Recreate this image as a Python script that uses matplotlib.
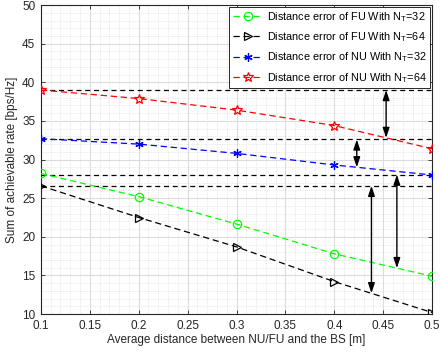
import matplotlib
matplotlib.use("Agg")
import matplotlib.pyplot as plt
from matplotlib.ticker import MultipleLocator

x = [0.1, 0.2, 0.3, 0.4, 0.5]
fu32 = [28.2, 25.2, 21.65, 17.8, 14.9]
fu64 = [26.6, 22.5, 18.7, 14.2, 10.2]
nu32 = [32.7, 32.0, 30.8, 29.3, 28.0]
nu64 = [39.0, 37.9, 36.4, 34.4, 31.4]
labels = ["Distance error of FU With N$_\\mathrm{T}$=32",
          "Distance error of FU With N$_\\mathrm{T}$=64",
          "Distance error of NU With N$_\\mathrm{T}$=32",
          "Distance error of NU With N$_\\mathrm{T}$=64"]
ref_levels = [39.0, 32.6, 28.05, 26.6]
# arrows: (x, y_top, y_bottom)
arrows = [(0.453, 39.0, 32.8), (0.423, 32.6, 29.0), (0.464, 28.05, 15.95), (0.438, 26.6, 12.7)]

plt.rcParams['font.family'] = ['Liberation Sans', 'DejaVu Sans']
plt.rcParams['mathtext.fontset'] = 'custom'
plt.rcParams['mathtext.rm'] = 'Liberation Sans'
plt.rcParams['mathtext.it'] = 'Liberation Sans:italic'
fig = plt.figure(figsize=(4.40, 3.61), dpi=100)
ax = fig.add_axes([0.093, 0.130, 0.889, 0.856])

for lv in ref_levels:
    ax.plot([0.1, 0.5], [lv, lv], color='black', ls=(0, (4, 3)), lw=0.9, zorder=2)

ax.plot(x, fu32, color=(0, 1, 0), ls=(0, (5, 3)), lw=0.9, marker='o', ms=6, mfc='none', mew=0.9, label=labels[0], zorder=3)
ax.plot(x, fu64, color='black', ls=(0, (5, 3)), lw=0.9, marker='>', ms=6, mfc='none', mew=0.9, label=labels[1], zorder=3)
ax.plot(x, nu32, color='blue', ls=(0, (5, 3)), lw=0.9, marker=(6, 2, 0), ms=6, mew=0.9, label=labels[2], zorder=3)
ax.plot(x, nu64, color='red', ls=(0, (5, 3)), lw=0.9, marker='*', ms=7.5, mfc='none', mew=0.9, label=labels[3], zorder=3)

for ax_x, yt, yb in arrows:
    ax.annotate('', xy=(ax_x, yb), xytext=(ax_x, yt),
                arrowprops=dict(arrowstyle='<|-|>,head_length=0.6,head_width=0.2', color='black', lw=1.0,
                                shrinkA=0, shrinkB=0), zorder=4)

ax.set_xlim(0.1, 0.5)
ax.set_ylim(10, 50)
ax.xaxis.set_major_locator(MultipleLocator(0.05))
ax.yaxis.set_major_locator(MultipleLocator(5))
ax.xaxis.set_minor_locator(MultipleLocator(0.01))
ax.yaxis.set_minor_locator(MultipleLocator(1))
ax.xaxis.set_major_formatter(matplotlib.ticker.FuncFormatter(lambda v, p: ('%g' % round(v, 2))))
ax.grid(which='major', color='#dcdcdc', lw=0.8, ls='-')
ax.grid(which='minor', color='#d8d8d8', lw=0.5, ls=(0, (1, 1.5)))
ax.set_axisbelow(True)
ax.tick_params(which='both', direction='in', top=True, right=True, labelsize=8.5, colors='#262626')
ax.tick_params(which='minor', length=0)
ax.tick_params(which='major', length=3, width=0.6, pad=4)
for s in ax.spines.values():
    s.set_color('#262626')
    s.set_linewidth(0.8)

ax.set_xlabel('Average distance between NU/FU and the BS [m]', fontsize=8.5, color='#262626', labelpad=2)
ax.set_ylabel('Sum of achievable rate [bps/Hz]', fontsize=8.5, color='#262626', labelpad=3)

leg = ax.legend(loc='upper right', fontsize=7.8, frameon=True, fancybox=False, edgecolor='#262626',
                framealpha=1, handlelength=2.8, handletextpad=0.4, borderpad=0.3, labelspacing=0.6,
                borderaxespad=0.15)
leg.get_frame().set_linewidth(0.7)

fig.savefig('out.png', dpi=100)
